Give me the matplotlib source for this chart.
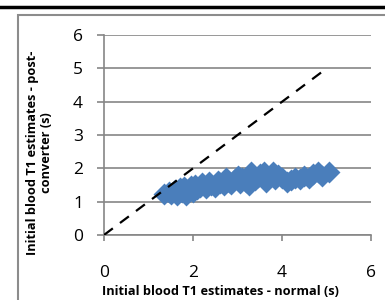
import matplotlib
matplotlib.use("Agg")
import matplotlib.pyplot as plt
from matplotlib.patches import Rectangle
from matplotlib.lines import Line2D

# data
t1_normal = [1.35, 1.45, 1.5, 1.6, 1.65, 1.7, 1.75, 1.8, 1.85, 1.9, 1.95, 2.0, 2.05, 2.1,
             2.15, 2.2, 2.3, 2.35, 2.4, 2.5, 2.55, 2.6, 2.7, 2.75, 2.8, 2.85, 2.95, 3.0,
             3.05, 3.1, 3.2, 3.25, 3.3, 3.4, 3.45, 3.5, 3.6, 3.65, 3.7, 3.8, 3.85, 3.9,
             4.0, 4.1, 4.2, 4.3, 4.4, 4.5, 4.6, 4.7, 4.8, 4.9, 5.05]
t1_post = [1.22, 1.3, 1.22, 1.35, 1.2, 1.4, 1.28, 1.45, 1.2, 1.35, 1.48, 1.3, 1.5, 1.38,
           1.45, 1.55, 1.4, 1.6, 1.5, 1.45, 1.62, 1.55, 1.5, 1.72, 1.6, 1.52, 1.68, 1.78,
           1.55, 1.7, 1.6, 1.5, 1.88, 1.65, 1.75, 1.82, 1.88, 1.6, 1.72, 1.88, 1.68, 1.8,
           1.7, 1.6, 1.65, 1.72, 1.68, 1.78, 1.7, 1.82, 1.9, 1.78, 1.9]
identity = [0, 5]
ticks = [0, 2, 4, 6]
yticks = [0, 1, 2, 3, 4, 5, 6]

plt.rcParams['font.family'] = ['Open Sans', 'DejaVu Sans']
grid_col = '#868686'

fig = plt.figure(figsize=(3.85, 3.0), dpi=100)
ax = fig.add_axes([0.270, 0.2167, 0.694, 0.6663])

ax.set_xlim(0, 6)
ax.set_ylim(0, 6)
ax.set_xticks(ticks)
ax.set_yticks(yticks)
ax.grid(axis='y', color=grid_col, lw=1.2)
ax.set_axisbelow(True)

ax.scatter(t1_normal, t1_post, marker='D', s=125, color='#4A7EBB', zorder=3, linewidths=0)
ax.plot(identity, identity, color='black', lw=1.6, ls=(0, (5, 4)), zorder=4)

for side in ['top', 'right']:
    ax.spines[side].set_visible(False)
for side in ['left', 'bottom']:
    ax.spines[side].set_color(grid_col)
    ax.spines[side].set_linewidth(1.2)

ax.tick_params(axis='y', length=5, width=1.2, color=grid_col, pad=10, labelsize=12.5)
ax.tick_params(axis='x', length=4.5, width=1.2, color=grid_col, pad=17, labelsize=12.5)

fig.text(0.103, 0.49, 'Initial blood T1 estimates - post-\nconverter (s)', rotation=90,
         ha='center', va='center', fontsize=9.2, fontweight='bold', multialignment='center',
         linespacing=1.1)
fig.text(0.572, 0.027, 'Initial blood T1 estimates - normal (s)', ha='center', va='center',
         fontsize=9.2, fontweight='bold')

# chart frame and top rule
fig.patches.append(Rectangle((18 / 385, -0.05), 1.1, 1 - 15 / 300 + 0.05, transform=fig.transFigure,
                             fill=False, edgecolor='#8c8c8c', lw=1.5))
fig.lines.append(Line2D([0, 1], [0.977, 0.977], transform=fig.transFigure, color='black', lw=2.5))

fig.savefig('out.png', dpi=100)
